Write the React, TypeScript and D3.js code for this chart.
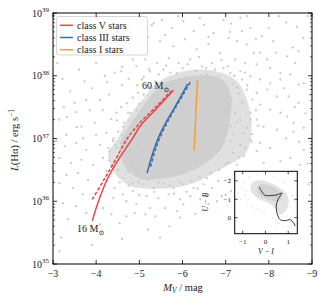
import React from 'react';
import * as d3 from 'd3';

// ---------- data ----------
const X_TICKS = [-3, -4, -5, -6, -7, -8, -9];
const Y_DECADES = [35, 36, 37, 38, 39];

// [M_V, log10 L(Hα)]
const CLASS_V_SOLID: [number, number][] = [
  [-3.91, 35.69], [-4.08, 36.05], [-4.27, 36.37], [-4.54, 36.69], [-4.85, 37.01],
  [-5.02, 37.2], [-5.4, 37.48], [-5.79, 37.77],
];
const CLASS_V_DASHED: [number, number][] = [
  [-3.91, 36.03], [-4.16, 36.32], [-4.43, 36.64], [-4.72, 37.0], [-5.0, 37.24],
  [-5.38, 37.5], [-5.74, 37.76],
];
const CLASS_III_SOLID: [number, number][] = [
  [-5.18, 36.45], [-5.3, 36.74], [-5.44, 37.01], [-5.62, 37.26], [-5.79, 37.46],
  [-5.97, 37.68], [-6.12, 37.87],
];
const CLASS_III_DASHED: [number, number][] = [
  [-5.26, 36.55], [-5.36, 36.8], [-5.5, 37.05], [-5.68, 37.3], [-5.86, 37.52],
  [-6.04, 37.73], [-6.18, 37.9],
];
const CLASS_I_SOLID: [number, number][] = [
  [-6.27, 36.81], [-6.29, 37.1], [-6.31, 37.4], [-6.33, 37.7], [-6.35, 37.93],
];

const LEGEND = [
  { label: 'class V stars', color: '#e8464a' },
  { label: 'class III stars', color: '#3a6ea8' },
  { label: 'class I stars', color: '#f5a030' },
];

// dense part of the main cloud (outline), [M_V, log L]
const CORE_OUTER: [number, number][] = [
  [-4.5, 37.0], [-4.72, 37.3], [-5.05, 37.6], [-5.4, 37.88], [-5.85, 38.04],
  [-6.41, 38.1], [-6.95, 38.04], [-7.28, 37.9], [-7.5, 37.6], [-7.6, 37.15],
  [-7.48, 36.78], [-7.18, 36.62], [-6.75, 36.46], [-6.29, 36.3], [-5.83, 36.22],
  [-5.25, 36.2], [-4.8, 36.24], [-4.42, 36.46], [-4.28, 36.76],
];
const CORE_INNER: [number, number][] = [
  [-4.6, 36.98], [-4.92, 37.35], [-5.25, 37.67], [-5.59, 37.88], [-6.06, 37.98],
  [-6.52, 38.01], [-6.95, 37.92], [-7.12, 37.69], [-7.08, 37.22], [-6.9, 36.84],
  [-6.52, 36.6], [-6.06, 36.44], [-5.48, 36.36], [-5.02, 36.36], [-4.7, 36.52],
  [-4.56, 36.76],
];

const SCATTER: [number, number][] = [
  [-3.22, 37.95], [-3.73, 37.91], [-4.43, 38.05], [-4.58, 38.07], [-4.85, 38.26], [-4.93, 38.15],
  [-3.5, 37.57], [-3.77, 37.61], [-3.54, 37.42], [-3.14, 37.3], [-3.97, 37.25], [-3.66, 37.19],
  [-4.35, 37.31], [-4.47, 37.41], [-4.58, 37.5], [-4.71, 37.56], [-4.85, 37.65], [-4.97, 37.73],
  [-4.74, 37.41], [-4.79, 37.29], [-4.62, 37.19], [-4.89, 37.3], [-4.51, 37.11], [-4.24, 37.09],
  [-4.93, 37.46], [-3.31, 37.06], [-5.18, 38.76], [-4.25, 37.9], [-4.09, 37.61], [-3.32, 37.34],
  [-3.55, 37.18], [-4.48, 37.29], [-5.29, 38.81], [-5.2, 38.62], [-4.6, 38.14],
  [-3.1, 38.2], [-3.6, 38.1], [-4.0, 38.2], [-4.2, 38.0], [-3.9, 37.8], [-3.4, 37.75],
  [-4.6, 37.85], [-4.75, 37.95], [-5.0, 38.35], [-5.05, 38.5], [-3.85, 37.45], [-4.15, 37.45],
  [-4.3, 37.7], [-3.25, 37.5], [-4.0, 37.05], [-4.4, 37.0], [-3.7, 37.0],
  // upper middle
  [-5.1, 38.73], [-5.33, 38.84], [-5.52, 38.89], [-5.75, 38.76], [-6.02, 38.87], [-6.26, 38.71],
  [-6.49, 38.81], [-6.72, 38.68], [-6.95, 38.89], [-5.17, 38.5], [-5.48, 38.55], [-5.79, 38.47],
  [-6.06, 38.58], [-6.33, 38.42], [-6.6, 38.5], [-6.87, 38.36], [-5.14, 38.26], [-5.41, 38.2],
  [-5.68, 38.28], [-5.91, 38.2], [-6.18, 38.26], [-6.45, 38.15], [-6.68, 38.2], [-6.95, 38.12],
  [-5.25, 38.07], [-5.56, 38.1], [-5.87, 38.04], [-6.56, 38.02], [-6.83, 37.99], [-5.06, 37.94],
  [-5.37, 37.91], [-5.6, 38.65], [-5.9, 38.95], [-6.4, 38.92], [-6.6, 38.62],
  // edge of the dense cloud
  [-4.95, 37.85], [-5.1, 37.98], [-5.22, 38.1], [-5.45, 38.02], [-5.62, 38.16], [-5.72, 38.05],
  [-6.0, 38.12], [-6.12, 38.18], [-6.3, 38.08], [-6.38, 38.3], [-6.55, 38.12], [-6.75, 38.1],
  [-6.9, 38.25], [-7.05, 38.15], [-7.2, 38.0], [-7.45, 38.05], [-7.5, 37.85], [-7.62, 37.62],
  [-7.7, 37.45], [-7.58, 37.3], [-7.75, 37.2], [-7.6, 36.95], [-7.45, 36.85], [-7.3, 36.7],
  [-7.0, 36.6], [-6.85, 36.5], [-6.65, 36.45], [-6.4, 36.38], [-6.2, 36.32], [-5.95, 36.3],
  [-5.7, 36.25], [-5.45, 36.3], [-5.2, 36.35], [-4.98, 36.3], [-4.75, 36.25], [-4.55, 36.3],
  [-4.4, 36.55], [-4.3, 36.65], [-4.28, 36.85], [-4.45, 36.9], [-4.6, 37.05], [-4.65, 37.25],
  [-4.8, 37.4], [-5.0, 37.55], [-5.1, 37.7], [-5.25, 37.82],
  // upper right
  [-7.34, 38.92], [-7.12, 38.83], [-7.38, 38.71], [-7.57, 38.76], [-7.84, 38.63], [-8.0, 38.76],
  [-8.23, 38.95], [-8.65, 38.78], [-7.07, 38.6], [-7.26, 38.55], [-7.49, 38.5], [-7.65, 38.36],
  [-7.8, 38.37], [-8.17, 38.37], [-8.42, 38.31], [-8.69, 38.39], [-7.22, 38.26], [-7.45, 38.2],
  [-7.72, 38.18], [-7.96, 38.26], [-8.03, 38.12], [-8.27, 38.04], [-8.61, 38.2], [-7.34, 38.07],
  [-7.57, 37.99], [-7.8, 37.94], [-8.03, 37.88], [-8.27, 37.94], [-8.5, 38.02], [-8.69, 37.86],
  [-8.81, 37.88], [-7.49, 37.78], [-7.72, 37.73], [-7.96, 37.78], [-8.19, 37.67], [-8.46, 37.67],
  [-8.69, 37.57], [-7.8, 37.54], [-8.03, 37.46], [-8.27, 37.41], [-8.42, 37.35], [-8.57, 37.25],
  [-7.57, 37.41], [-7.72, 37.3], [-7.88, 37.19], [-8.19, 37.14], [-8.57, 37.11], [-8.81, 37.17],
  [-7.49, 37.17], [-7.26, 37.25], [-7.11, 38.04], [-7.18, 37.88], [-7.3, 37.72], [-7.14, 37.62],
  [-7.38, 37.57], [-7.07, 37.47], [-7.22, 37.41], [-7.34, 37.3], [-7.11, 37.2], [-7.18, 37.07],
  [-7.42, 37.09], [-7.61, 37.07], [-7.38, 37.94], [-7.26, 37.81],
  [-7.1, 38.7], [-7.5, 38.95], [-7.7, 38.58], [-8.1, 38.55], [-8.4, 38.85], [-8.8, 38.6],
  [-8.9, 38.95], [-8.55, 38.45], [-8.35, 37.8], [-8.6, 37.5], [-8.85, 37.4], [-8.95, 37.7],
  [-8.4, 37.0], [-8.7, 36.95], [-8.9, 36.6], [-8.2, 36.45], [-8.6, 36.35], [-8.95, 36.1],
  // lower left
  [-3.08, 36.96], [-3.27, 36.88], [-3.54, 36.93], [-3.77, 36.82], [-4.08, 36.9], [-4.39, 36.96],
  [-3.15, 36.69], [-3.42, 36.61], [-3.66, 36.66], [-3.93, 36.58], [-4.16, 36.69], [-3.31, 36.42],
  [-3.58, 36.45], [-3.81, 36.34], [-3.15, 36.29], [-3.46, 36.21], [-3.69, 36.11], [-4.24, 36.32],
  [-4.43, 36.21], [-4.62, 36.11], [-4.85, 36.16], [-4.93, 35.95], [-3.23, 35.97], [-3.54, 35.92],
  [-3.77, 35.81], [-4.16, 35.89], [-4.35, 35.79], [-4.7, 35.76], [-3.35, 35.71], [-4.08, 35.63],
  [-4.54, 35.65], [-3.19, 35.42], [-3.15, 35.2], [-4.89, 35.81],
  [-4.31, 36.8], [-4.47, 36.85], [-4.54, 36.72], [-4.66, 36.64], [-4.78, 36.8], [-4.89, 36.69],
  [-4.74, 36.48], [-4.93, 36.42], [-4.51, 36.5], [-4.35, 36.56], [-4.62, 36.37], [-4.85, 36.29],
  [-4.58, 36.93], [-4.24, 36.48], [-4.81, 36.56], [-4.97, 36.9],
  [-3.6, 35.55], [-3.9, 35.3], [-4.6, 35.4], [-4.7, 36.0], [-4.4, 36.05],
  // lower middle
  [-5.1, 36.27], [-5.33, 36.21], [-5.56, 36.29], [-5.79, 36.21], [-6.02, 36.27], [-6.26, 36.21],
  [-6.49, 36.27], [-6.68, 36.21], [-5.17, 36.08], [-5.44, 36.05], [-5.68, 36.11], [-5.95, 36.03],
  [-6.18, 36.08], [-6.41, 36.03], [-5.25, 35.89], [-5.6, 35.89], [-5.87, 35.84], [-6.02, 35.95],
  [-5.14, 35.79], [-5.37, 35.76], [-5.95, 35.74], [-5.48, 35.42], [-6.56, 36.37], [-6.83, 36.32],
  [-6.91, 36.08], [-5.7, 35.6], [-6.3, 35.8], [-6.6, 35.95], [-5.2, 35.55], [-6.8, 36.0],
  [-7.0, 36.1], [-5.0, 36.1], [-5.35, 36.15], [-5.8, 36.12], [-6.1, 36.15], [-6.35, 36.2],
  [-6.6, 36.1],
  // lower right (above inset)
  [-7.11, 36.96], [-7.34, 36.9], [-7.57, 36.98], [-7.8, 36.93], [-7.18, 36.77], [-7.42, 36.72],
  [-7.72, 36.8], [-8.03, 36.85], [-8.27, 36.64], [-8.5, 36.69], [-8.81, 36.82], [-7.07, 36.61],
  [-7.26, 36.58], [-7.88, 36.61], [-8.73, 36.58], [-8.92, 36.27], [-7.09, 36.35], [-7.12, 36.16],
];

// inset: [V-I, U-B]
const INSET_CURVE: [number, number][] = [
  [-0.27, -1.66], [-0.12, -1.34], [-0.01, -1.21], [0.29, -1.21], [0.51, -1.24], [0.73, -1.34],
  [0.58, -1.06], [0.48, -0.7], [0.51, -0.25], [0.65, 0.11], [0.87, 0.16], [1.09, 0.11],
  [1.24, 0.29], [1.31, 0.46],
];
const INSET_CLOUD_OUTER: [number, number][] = [
  [-0.59, -1.88], [-0.23, -2.05], [0.21, -1.88], [0.65, -1.61], [0.95, -1.24], [1.02, -0.79],
  [0.87, -0.35], [0.65, -0.16], [0.43, -0.52], [0.14, -0.79], [-0.23, -0.97], [-0.52, -1.24],
  [-0.66, -1.57],
];
const INSET_CLOUD_INNER: [number, number][] = [
  [-0.3, -1.78], [0.14, -1.78], [0.58, -1.46], [0.73, -1.06], [0.51, -0.89], [0.14, -0.97],
  [-0.18, -1.16], [-0.37, -1.46],
];
const INSET_SCATTER: [number, number][] = [
  [-1.0, -1.6], [-0.9, -1.2], [-1.1, -1.0], [-0.8, -0.8], [-0.6, -0.6], [-0.95, -1.9],
  [-0.7, -2.2], [-0.4, -2.3], [0.0, -2.3], [0.4, -2.2], [0.8, -1.9], [1.1, -1.6],
  [1.2, -1.2], [1.3, -0.9], [1.2, -0.4], [1.1, 0.0], [0.9, 0.2], [0.6, 0.3],
  [0.3, 0.0], [0.0, -0.4], [-0.3, -0.5], [-1.2, -1.4], [0.5, 0.6], [1.0, 0.5], [-0.5, -0.2],
  [-0.85, -1.45], [-0.75, -1.05], [0.95, -0.1], [0.75, -0.05], [1.05, -0.6],
];
const INSET_X_TICKS = [-1, 0, 1];
const INSET_Y_TICKS = [-2, -1, 0];

const FONT = '"Liberation Serif", "DejaVu Serif", serif';
const fmt = (v: number) => (v < 0 ? '\u2212' + Math.abs(v) : String(v));

export default function App() {
  const x = d3.scaleLinear().domain([-3, -9]).range([53, 312]);
  const yL = d3.scaleLog().domain([1e35, 1e39]).range([264, 13]);
  const y = (v: number) => yL(Math.pow(10, v));
  const [x0, x1] = x.range();
  const [y0, y1] = [264, 13];

  const line = d3.line<[number, number]>().x(d => x(d[0])).y(d => y(d[1])).curve(d3.curveCatmullRom);
  const blob = d3.line<[number, number]>().x(d => x(d[0])).y(d => y(d[1])).curve(d3.curveCatmullRomClosed);

  const ix = d3.scaleLinear().domain([-1.35, 1.4]).range([234.7, 297.3]);
  const iy = d3.scaleLinear().domain([-2.52, 0.87]).range([171.3, 233.7]);
  const iline = d3.line<[number, number]>().x(d => ix(d[0])).y(d => iy(d[1])).curve(d3.curveCatmullRom);
  const iblob = d3.line<[number, number]>().x(d => ix(d[0])).y(d => iy(d[1])).curve(d3.curveCatmullRomClosed);

  const minor: number[] = [];
  for (let d = 35; d < 39; d++) for (let k = 2; k <= 9; k++) minor.push(Math.log10(k) + d);

  const ptColor = '#c9c9c9';
  const txt = { fontFamily: FONT } as React.CSSProperties;

  return (
    <svg width={329} height={305} style={{ position: 'absolute', left: 0, top: 0, background: '#fff', fontFamily: FONT }}>
      <defs>
        <clipPath id="plotclip"><rect x={x0} y={y1} width={x1 - x0} height={y0 - y1} /></clipPath>
      </defs>
      <g clipPath="url(#plotclip)">
        <path d={blob(CORE_OUTER) || ''} fill="#e0e0e0" />
        <path d={blob(CORE_INNER) || ''} fill="#cfcfcf" />
        {SCATTER.map((p, i) => (
          <circle key={i} cx={x(p[0])} cy={y(p[1])} r={1.15} fill={ptColor} />
        ))}
        <path d={line(CLASS_V_DASHED) || ''} fill="none" stroke={LEGEND[0].color} strokeWidth={1.5} strokeDasharray="3.5,1.8" />
        <path d={line(CLASS_V_SOLID) || ''} fill="none" stroke={LEGEND[0].color} strokeWidth={1.5} />
        <path d={line(CLASS_III_DASHED) || ''} fill="none" stroke={LEGEND[1].color} strokeWidth={1.5} strokeDasharray="3.5,1.8" />
        <path d={line(CLASS_III_SOLID) || ''} fill="none" stroke={LEGEND[1].color} strokeWidth={1.5} />
        <path d={line(CLASS_I_SOLID) || ''} fill="none" stroke={LEGEND[2].color} strokeWidth={1.5} />
      </g>

      {/* mass labels */}
      <text x={142} y={89} fontSize={10} fill="#222" style={txt}>60 M<tspan fontSize={7} dy={2.5}>⊙</tspan></text>
      <text x={77} y={232} fontSize={10} fill="#222" style={txt}>16 M<tspan fontSize={7} dy={2.5}>⊙</tspan></text>

      {/* legend */}
      <rect x={56.5} y={16.5} width={91} height={38.5} rx={2} fill="#fff" fillOpacity={0.85} stroke="#cccccc" strokeWidth={0.8} />
      {LEGEND.map((l, i) => (
        <g key={l.label}>
          <line x1={60} x2={73} y1={25.3 + i * 12.2} y2={25.3 + i * 12.2} stroke={l.color} strokeWidth={1.5} />
          <text x={77} y={28.6 + i * 12.2} fontSize={10} fill="#222" style={txt}>{l.label}</text>
        </g>
      ))}

      {/* main frame and ticks */}
      <rect x={x0} y={y1} width={x1 - x0} height={y0 - y1} fill="none" stroke="#000" strokeWidth={1} />
      {X_TICKS.map(t => (
        <g key={t}>
          <line x1={x(t)} x2={x(t)} y1={y0} y2={y0 - 4} stroke="#000" strokeWidth={0.8} />
          <line x1={x(t)} x2={x(t)} y1={y1} y2={y1 + 4} stroke="#000" strokeWidth={0.8} />
          <text x={x(t)} y={277} fontSize={10} textAnchor="middle" fill="#222" style={txt}>{fmt(t)}</text>
        </g>
      ))}
      {Y_DECADES.map(d => (
        <g key={d}>
          <line x1={x0} x2={x0 + 4} y1={y(d)} y2={y(d)} stroke="#000" strokeWidth={0.8} />
          <line x1={x1} x2={x1 - 4} y1={y(d)} y2={y(d)} stroke="#000" strokeWidth={0.8} />
          <text x={49} y={y(d) + 3.5} fontSize={10} textAnchor="end" fill="#222" style={txt}>
            10<tspan fontSize={7} dy={-4.5}>{d}</tspan>
          </text>
        </g>
      ))}
      {minor.map(m => (
        <g key={m}>
          <line x1={x0} x2={x0 + 2} y1={y(m)} y2={y(m)} stroke="#000" strokeWidth={0.6} />
          <line x1={x1} x2={x1 - 2} y1={y(m)} y2={y(m)} stroke="#000" strokeWidth={0.6} />
        </g>
      ))}

      {/* axis labels */}
      <text x={183} y={291} fontSize={10.5} textAnchor="middle" fill="#222" style={txt}>
        <tspan fontStyle="italic">M</tspan><tspan fontStyle="italic" fontSize={7.5} dy={2}>V</tspan><tspan dy={-2}>{'  /  mag'}</tspan>
      </text>
      <text transform="translate(18,140) rotate(-90)" fontSize={10.5} textAnchor="middle" fill="#222" style={txt}>
        <tspan fontStyle="italic">L</tspan>{'(Hα)  /  erg s'}<tspan fontSize={7.5} dy={-4}>−1</tspan>
      </text>

      {/* inset */}
      <rect x={234.7} y={171.3} width={62.6} height={62.4} fill="#fff" />
      <g>
        <path d={iblob(INSET_CLOUD_OUTER) || ''} fill="#e3e3e3" />
        <path d={iblob(INSET_CLOUD_INNER) || ''} fill="#d3d3d3" />
        {INSET_SCATTER.map((p, i) => (
          <circle key={i} cx={ix(p[0])} cy={iy(p[1])} r={0.6} fill="#d0d0d0" />
        ))}
        <path d={iline(INSET_CURVE) || ''} fill="none" stroke="#222" strokeWidth={0.9} />
      </g>
      <rect x={234.7} y={171.3} width={62.6} height={62.4} fill="none" stroke="#000" strokeWidth={1} />
      {INSET_X_TICKS.map(t => (
        <g key={t}>
          <line x1={ix(t)} x2={ix(t)} y1={233.7} y2={230.7} stroke="#000" strokeWidth={0.7} />
          <line x1={ix(t)} x2={ix(t)} y1={171.3} y2={174.3} stroke="#000" strokeWidth={0.7} />
          <text x={ix(t)} y={244} fontSize={7} textAnchor="middle" fill="#222" style={txt}>{fmt(t)}</text>
        </g>
      ))}
      {INSET_Y_TICKS.map(t => (
        <g key={t}>
          <line x1={234.7} x2={237.7} y1={iy(t)} y2={iy(t)} stroke="#000" strokeWidth={0.7} />
          <line x1={297.3} x2={294.3} y1={iy(t)} y2={iy(t)} stroke="#000" strokeWidth={0.7} />
          <text x={231} y={iy(t) + 2.5} fontSize={7} textAnchor="end" fill="#222" style={txt}>{fmt(t)}</text>
        </g>
      ))}
      <text x={266} y={254} fontSize={7.5} textAnchor="middle" fill="#222" fontStyle="italic" style={txt}>V − I</text>
      <text transform="translate(208,202) rotate(-90)" fontSize={7.5} textAnchor="middle" fill="#222" fontStyle="italic" style={txt}>U − B</text>
    </svg>
  );
}
